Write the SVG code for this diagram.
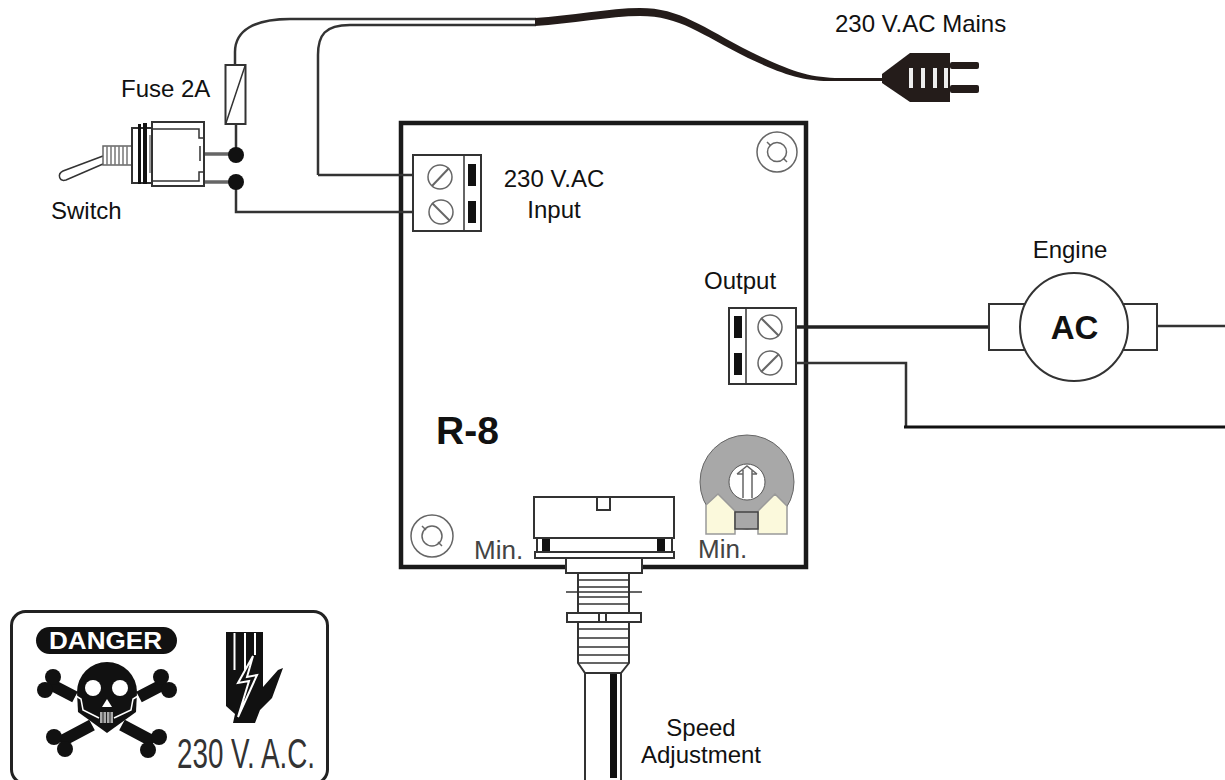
<svg xmlns="http://www.w3.org/2000/svg" width="1225" height="780" viewBox="0 0 1225 780">
<style>
text{font-family:"Liberation Sans",Arial,sans-serif;font-size:24px;fill:#111}
.b{font-weight:bold}
.min{font-size:26px;fill:#444}
.wire{fill:none;stroke:#333;stroke-width:2.5}
.wt{fill:none;stroke:#222;stroke-width:3.5}
.ln{fill:#fff;stroke:#333;stroke-width:2}
.thin{fill:none;stroke:#333;stroke-width:1.5}
.g{fill:none;stroke:#666;stroke-width:1.5}
.blk{fill:#241c1a}
.k{fill:#111}
.scr{fill:#fff;stroke:#666;stroke-width:1.5}
.sl{stroke:#666;stroke-width:2}
</style>
<rect width="1225" height="780" fill="#fff"/>
<g id="board"><rect x="401" y="123" width="405" height="444" fill="#fff" stroke="#1a1a1a" stroke-width="4.5"/></g>
<g id="connectors">
<path class="wire" d="M235,65V52C235,30 255,19 290,19H536"/>
<path class="wire" d="M318,175H414M318,175V55C318,35 325,25 350,25H536"/>
<path class="wire" d="M236,155V124M236,182V212H414"/>
<path d="M204,154H236M204,182H236" fill="none" stroke="#666" stroke-width="3.500"/>
<path class="blk" d="M535,18C570,16 610,8 640,8C680,8 702,27 751,52C790,71 810,78 840,78H884V81H840C808,82 788,77 748,58C700,34 680,16 640,16C610,16 570,24 535,26Z"/>
<path class="wt" d="M796,327H989"/>
<path class="wire" d="M1157,326H1225"/>
<path class="wire" d="M796,363H906V427"/>
<path d="M904,427H1225" fill="none" stroke="#111" stroke-width="3"/>
</g>
<g id="fuse"><rect class="ln" x="225.500" y="65" width="20" height="59"/><path class="thin" d="M226,123L245,66"/></g>
<g id="junctions"><circle class="k" cx="236" cy="155" r="8"/><circle class="k" cx="236" cy="182" r="8"/></g>
<g id="switch">
<path class="thin" d="M103,156L63,171C57,174 59,182 66,180L103,164"/>
<rect x="103" y="146" width="29" height="19" fill="#fff" stroke="#666" stroke-width="1.500"/>
<path d="M107,146V165M111,146V165M115,146V165M119,146V165M123,146V165M127,146V165" stroke="#777" stroke-width="1.500"/>
<rect class="ln" x="132" y="128" width="20" height="55" stroke-width="1.500"/>
<rect class="k" x="138" y="124" width="3" height="60"/><rect class="k" x="143" y="123" width="4" height="61"/>
<rect x="149" y="135" width="4" height="38" fill="#999"/>
<rect class="ln" x="152" y="122" width="52" height="64"/>
<path class="thin" d="M152,129H199V138H204M152,181H199V172H204"/>
<path class="thin" d="M152,129V181M200,146V161"/>
</g>
<g id="input-terminal">
<rect class="ln" x="413" y="155" width="68" height="76" stroke-width="2.500"/>
<path class="thin" d="M464,155V231" stroke-width="2"/>
<rect class="k" x="468" y="164" width="8" height="22"/><rect class="k" x="468" y="201" width="8" height="22"/>
<circle class="scr" cx="440" cy="177" r="12"/><path class="sl" d="M432,186L449,168"/>
<circle class="scr" cx="441" cy="212" r="12"/><path class="sl" d="M432,203L450,221"/>
</g>
<g id="output-terminal">
<rect class="ln" x="729" y="308" width="67" height="76" stroke-width="2.500"/>
<path class="thin" d="M746,308V384" stroke-width="2"/>
<rect class="k" x="734" y="316" width="8" height="22"/><rect class="k" x="734" y="353" width="8" height="22"/>
<circle class="scr" cx="770" cy="327" r="12"/><path class="sl" d="M761,318L779,336"/>
<circle class="scr" cx="770" cy="363" r="12"/><path class="sl" d="M761,372L779,354"/>
</g>
<g id="mount-top"><circle class="g" cx="777" cy="152" r="20"/><circle class="g" cx="777" cy="152" r="9.500"/><path class="g" d="M767,142L771,146M783,158L787,162"/></g>
<g id="mount-bottom"><circle class="g" cx="432" cy="536" r="21"/><circle class="g" cx="432" cy="536" r="10"/><path class="g" d="M422,526L426,530M438,542L442,546"/></g>
<g id="trimmer">
<circle cx="747" cy="482" r="47" fill="#a8a8a8" stroke="#666" stroke-width="1"/>
<path d="M706,505L718,494L735,511V534H706Z M758,511L775,494L787,506V534H758Z" fill="#fbf9dc" stroke="#999" stroke-width="1.500"/>
<rect x="735" y="512" width="23" height="17" fill="#a8a8a8" stroke="#444" stroke-width="1.500"/>
<circle cx="747" cy="482" r="18" fill="#fff" stroke="#555" stroke-width="1"/>
<path class="g" d="M737,474L747,466L757,474M743,470V498M752,470V498M737,474H743M752,474H757"/>
</g>
<g id="potentiometer">
<rect class="ln" x="537" y="538" width="135" height="14" stroke-width="1.500"/>
<rect class="k" x="542" y="539" width="8" height="12"/><rect class="k" x="657" y="539" width="8" height="12"/>
<rect class="ln" x="534" y="497" width="140" height="41" stroke-width="1.500"/>
<rect class="ln" x="597" y="497" width="13" height="13" stroke-width="1"/>
<rect class="ln" x="535" y="552" width="139" height="6" stroke-width="1.500"/>
<rect class="ln" x="566" y="558" width="76" height="15" stroke-width="1.500"/>
<path class="ln" d="M578,573H629V663L621,673H585L578,663Z" stroke-width="1.500"/>
<path class="thin" d="M578,580H629M578,587H629M566,592H642M578,597H629M578,604H629M578,629H629M578,638H629M578,647H629M578,655H629M578,663H629"/>
<rect class="ln" x="567" y="613" width="74" height="9" stroke-width="1.500"/>
<rect class="ln" x="599" y="613" width="7" height="9" stroke-width="1"/>
<path class="ln" d="M585,673V780M621,673V780" stroke-width="1.500"/>
<rect class="k" x="610" y="674" width="7" height="104"/>
</g>
<g id="motor">
<rect class="ln" x="989" y="304" width="168" height="46"/>
<circle class="ln" cx="1074" cy="327" r="54"/>
<text class="b" x="1074.500" y="339" text-anchor="middle" style="font-size:33px">AC</text>
</g>
<g id="plug">
<path class="blk" d="M882,74L910,53H950V102H910L882,83Z"/>
<rect class="blk" x="950" y="62" width="29" height="7" rx="2"/><rect class="blk" x="950" y="85" width="29" height="8" rx="2"/>
<path d="M909,68h4v20h-4zM921,68h4v20h-4zM933,68h4v20h-4zM944,68h4v20h-4z" fill="#eee"/>
</g>
<g id="danger-label">
<rect x="11.500" y="611.500" width="316" height="172" rx="14" fill="#fff" stroke="#222" stroke-width="3"/>
<rect x="36" y="627" width="141" height="27" rx="13.500" class="k"/>
<text class="b" x="49" y="649" textLength="113" lengthAdjust="spacingAndGlyphs" style="fill:#fff;font-size:23px">DANGER</text>
<path d="M50,684L75,697M60,742L92,725M164,684L139,697M154,742L122,725" stroke="#111" stroke-width="12" fill="none"/>
<g class="k"><circle cx="53" cy="677" r="8"/><circle cx="45" cy="690" r="8"/><circle cx="161" cy="677" r="8"/><circle cx="169" cy="690" r="8"/><circle cx="54" cy="737" r="8"/><circle cx="65" cy="749" r="8"/><circle cx="159" cy="737" r="8"/><circle cx="148" cy="750" r="8"/></g>
<path class="k" d="M77,692A30,30 0 0 1 137,692L136,712L107,733L78,712Z"/>
<circle cx="93" cy="688" r="8" fill="#fff"/><circle cx="120" cy="688" r="8" fill="#fff"/>
<path d="M107,699L102,707H112Z" fill="#fff"/>
<path d="M76,696L81,699L83,710L99,718M138,696L133,699L131,710L114,718" fill="none" stroke="#fff" stroke-width="1.500"/>
<rect x="100" y="712" width="13" height="11" fill="#aaa"/>
<path d="M103,712V723M106.500,712V723M110,712V723" stroke="#222" stroke-width="1"/>
<path class="k" d="M226,632H263V687L278,670L283,668L272,698L260,710L255,723H233L235,714L226,706Z"/>
<path d="M234.500,633V670M245,633V670M255,633V655" stroke="#fff" stroke-width="2"/>
<path class="k" stroke="#fff" stroke-width="2" d="M253,656L238,683L249,681L238,717L257,675L247,677Z"/>
<text x="177" y="768" textLength="138" lengthAdjust="spacingAndGlyphs" style="font-size:42px;fill:#333">230 V. A.C.</text>
</g>
<g id="labels">
<text x="835" y="32">230 V.AC Mains</text>
<text x="121" y="97">Fuse 2A</text>
<text x="51" y="219">Switch</text>
<text x="554" y="187" text-anchor="middle">230 V.AC</text>
<text x="554" y="218" text-anchor="middle">Input</text>
<text x="704" y="289">Output</text>
<text x="1070" y="258" text-anchor="middle">Engine</text>
<text class="b" x="436" y="444" style="font-size:39px">R-8</text>
<text class="min" x="474" y="559">Min.</text>
<text class="min" x="698" y="558">Min.</text>
<text x="701" y="736" text-anchor="middle">Speed</text>
<text x="701" y="763" text-anchor="middle">Adjustment</text>
</g>
</svg>
